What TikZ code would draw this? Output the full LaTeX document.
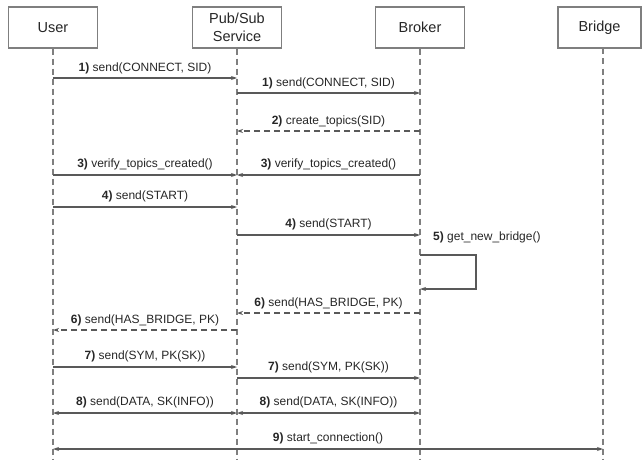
\documentclass[tikz,border=0pt]{standalone}
\usepackage{fontspec}
\setmainfont{Liberation Sans}
\usetikzlibrary{arrows.meta}
\definecolor{ln}{HTML}{595959}
\definecolor{bx}{HTML}{7F7F7F}
\definecolor{tx}{HTML}{262626}
\begin{document}
\begin{tikzpicture}[x=1pt,y=-1pt,
  actor/.style={draw=bx,line width=1.3pt,fill=white,minimum width=89pt,minimum height=41pt,inner sep=0pt,font=\fontsize{14.5}{18}\selectfont,text=tx,align=center},
  life/.style={draw=bx,line width=1.1pt,dash pattern=on 6pt off 4pt},
  msg/.style={draw=ln,line width=1.3pt,-{Stealth[length=6pt,width=4pt]}},
  ret/.style={msg,dash pattern=on 6pt off 4pt},
  both/.style={draw=ln,line width=1.3pt,{Stealth[length=6pt,width=4pt]}-{Stealth[length=6pt,width=4pt]}},
  lab/.style={font=\fontsize{12}{14}\selectfont,text=tx,inner sep=1pt}]
\useasboundingbox (0,0) rectangle (642,460);
\node[actor] (U) at (53,27.5) {User};
\node[actor] (P) at (237,27.5) {Pub/Sub\\Service};
\node[actor] (B) at (420,27.5) {Broker};
\node[actor,minimum width=83pt] (R) at (599.5,27.5) {Bridge};
\coordinate (Uend) at (53,460);
\coordinate (Pend) at (237,460);
\coordinate (Bend) at (420,460);
\coordinate (Rtop) at (603,48.5);
\coordinate (Rend) at (603,460);
\draw[life] (U.south) -- (Uend);
\draw[life] (P.south) -- (Pend);
\draw[life] (B.south) -- (Bend);
\draw[life] (Rtop) -- (Rend);
\foreach \y/\n in {78/a,93/b,131/c,175/d,207/e,235/f,313/g,330/h,367/i,378/j,413/k,449/l}{
  \coordinate (U\n) at (53,\y);
  \coordinate (P\n) at (237,\y);
  \coordinate (B\n) at (420,\y);
  \coordinate (R\n) at (603,\y);
}
\coordinate (L1) at (420,255);
\coordinate (L2) at (476,255);
\coordinate (L3) at (476,289);
\coordinate (L4) at (420,289);
\draw[msg] (Ua) -- node[lab,above=2pt] {\textbf{1)} send(CONNECT, SID)} (Pa);
\draw[msg] (Pb) -- node[lab,above=2pt] {\textbf{1)} send(CONNECT, SID)} (Bb);
\draw[ret] (Bc) -- node[lab,above=2pt] {\textbf{2)} create\_topics(SID)} (Pc);
\draw[msg] (Ud) -- node[lab,above=3pt] {\textbf{3)} verify\_topics\_created()} (Pd);
\draw[msg] (Bd) -- node[lab,above=3pt] {\textbf{3)} verify\_topics\_created()} (Pd);
\draw[msg] (Ue) -- node[lab,above=3pt] {\textbf{4)} send(START)} (Pe);
\draw[msg] (Pf) -- node[lab,above=3pt] {\textbf{4)} send(START)} (Bf);
\node[lab,anchor=west] (g5) at (432,237) {\textbf{5)} get\_new\_bridge()};
\draw[msg] (L1) -- (L2) -- (L3) -- (L4);
\draw[ret] (Bg) -- node[lab,above=2pt] {\textbf{6)} send(HAS\_BRIDGE, PK)} (Pg);
\draw[ret] (Ph) -- node[lab,above=2pt] {\textbf{6)} send(HAS\_BRIDGE, PK)} (Uh);
\draw[msg] (Ui) -- node[lab,above=3pt] {\textbf{7)} send(SYM, PK(SK))} (Pi);
\draw[msg] (Pj) -- node[lab,above=3pt] {\textbf{7)} send(SYM, PK(SK))} (Bj);
\draw[both] (Uk) -- node[lab,above=3pt] {\textbf{8)} send(DATA, SK(INFO))} (Pk);
\draw[both] (Pk) -- node[lab,above=3pt] {\textbf{8)} send(DATA, SK(INFO))} (Bk);
\draw[both] (Ul) -- node[lab,above=3pt] {\textbf{9)} start\_connection()} (Rl);
\end{tikzpicture}
\end{document}
